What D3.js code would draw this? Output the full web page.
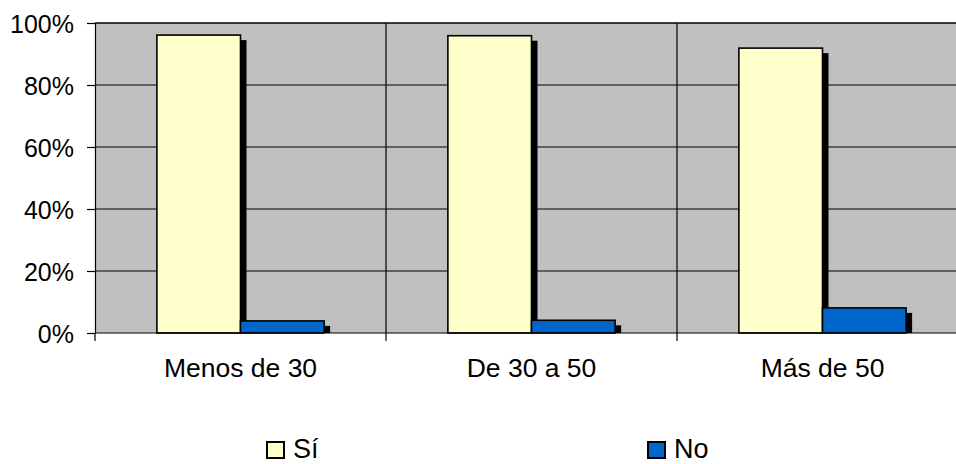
<!DOCTYPE html>
<html>
<head>
<meta charset="utf-8">
<script src="https://cdn.jsdelivr.net/npm/d3@7"></script>
<style>
  body { margin: 0; background: #fff; }
  svg { display: block; font-family: Arial, "Liberation Sans", sans-serif; }
</style>
</head>
<body>
<div id="chart"></div>
<script>
const categorias = ["Menos de 30", "De 30 a 50", "Más de 50"]
const series = ["Sí", "No"]
const valoresSi = [96.1, 95.9, 91.9]
const valoresNo = [3.9, 4.1, 8.1]
const ticksY = [0, 20, 40, 60, 80, 100]
const colores = ["#FFFFCC", "#0066CC"]

const width = 956, height = 464
const plot = { left: 95, top: 23, right: 968, bottom: 333 }
const fuente = "Arial, 'Liberation Sans', sans-serif"

const data = categorias.map((c, i) => ({ cat: c, valores: [valoresSi[i], valoresNo[i]] }))

const svg = d3.select("#chart").append("svg")
  .attr("width", width)
  .attr("height", height)

const x = d3.scaleBand()
  .domain(categorias)
  .range([plot.left, plot.right])
  .padding(0)

const xs = d3.scaleBand()
  .domain(series)
  .range([0, x.bandwidth()])
  .paddingInner(0)
  .paddingOuter(0.74)

const y = d3.scaleLinear()
  .domain([0, 100])
  .range([plot.bottom, plot.top])

// fondo del area de trazado
svg.append("rect")
  .attr("x", plot.left)
  .attr("y", plot.top)
  .attr("width", plot.right - plot.left)
  .attr("height", plot.bottom - plot.top)
  .attr("fill", "#C0C0C0")

// lineas de division horizontales
svg.append("g")
  .selectAll("line")
  .data(ticksY.filter(d => d > 0))
  .join("line")
  .attr("x1", plot.left)
  .attr("x2", plot.right)
  .attr("y1", d => y(d))
  .attr("y2", d => y(d))
  .attr("stroke", "#000")
  .attr("stroke-width", d => d == 100 ? 1.6 : 1.2)

// lineas de division verticales
svg.append("g")
  .selectAll("line")
  .data(categorias.slice(1))
  .join("line")
  .attr("x1", d => x(d))
  .attr("x2", d => x(d))
  .attr("y1", plot.top)
  .attr("y2", plot.bottom + 8)
  .attr("stroke", "#000")
  .attr("stroke-width", 1.2)

// sombras y barras
const grupos = svg.append("g")
  .selectAll("g")
  .data(data)
  .join("g")
  .attr("transform", d => "translate(" + x(d.cat) + ",0)")

grupos.selectAll("rect.sombra")
  .data(d => d.valores.map((v, i) => ({ serie: series[i], v: v })))
  .join("rect")
  .attr("class", "sombra")
  .attr("x", d => xs(d.serie) + 6)
  .attr("y", d => y(d.v) + 5)
  .attr("width", xs.bandwidth())
  .attr("height", d => Math.max(0, plot.bottom - y(d.v) - 5))
  .attr("fill", "#000")

grupos.selectAll("rect.barra")
  .data(d => d.valores.map((v, i) => ({ serie: series[i], v: v, i: i })))
  .join("rect")
  .attr("class", "barra")
  .attr("x", d => xs(d.serie))
  .attr("y", d => y(d.v))
  .attr("width", xs.bandwidth())
  .attr("height", d => plot.bottom - y(d.v))
  .attr("fill", d => colores[d.i])
  .attr("stroke", "#000")
  .attr("stroke-width", 1.6)

// eje Y
const ejeY = svg.append("g")
  .attr("transform", "translate(" + plot.left + ",0)")
  .call(d3.axisLeft(y).tickValues(ticksY).tickSize(8).tickPadding(13).tickFormat(d => d + "%"))
ejeY.select(".domain").attr("stroke", "#000").attr("stroke-width", 1.2)
ejeY.selectAll("text").attr("font-size", 25).attr("font-family", fuente).attr("fill", "#000").attr("dy", "0.36em")
ejeY.selectAll("line").attr("stroke-width", 1.2)

// eje X
const ejeX = svg.append("g")
  .attr("transform", "translate(0," + plot.bottom + ")")
  .call(d3.axisBottom(x).tickSize(0).tickPadding(25))
ejeX.select(".domain").remove()
ejeX.selectAll("text").attr("font-size", 26.5).attr("font-family", fuente).attr("fill", "#000")

svg.append("line")
  .attr("x1", plot.left).attr("x2", plot.right)
  .attr("y1", plot.bottom).attr("y2", plot.bottom)
  .attr("stroke", "#000").attr("stroke-width", 1.2)

svg.append("line")
  .attr("x1", plot.left).attr("x2", plot.left)
  .attr("y1", plot.bottom).attr("y2", plot.bottom + 8)
  .attr("stroke", "#000").attr("stroke-width", 1.2)

// leyenda
const leyendaX = [267, 648]
const leyenda = svg.append("g")
  .selectAll("g")
  .data(series)
  .join("g")
  .attr("transform", (d, i) => "translate(" + leyendaX[i] + ",442)")

leyenda.append("rect")
  .attr("width", 17)
  .attr("height", 16)
  .attr("fill", (d, i) => colores[i])
  .attr("stroke", "#000")
  .attr("stroke-width", 2)

leyenda.append("text")
  .attr("x", 26)
  .attr("y", 16)
  .attr("font-size", 27)
  .attr("font-family", fuente)
  .text(d => d)
</script>
</body>
</html>
